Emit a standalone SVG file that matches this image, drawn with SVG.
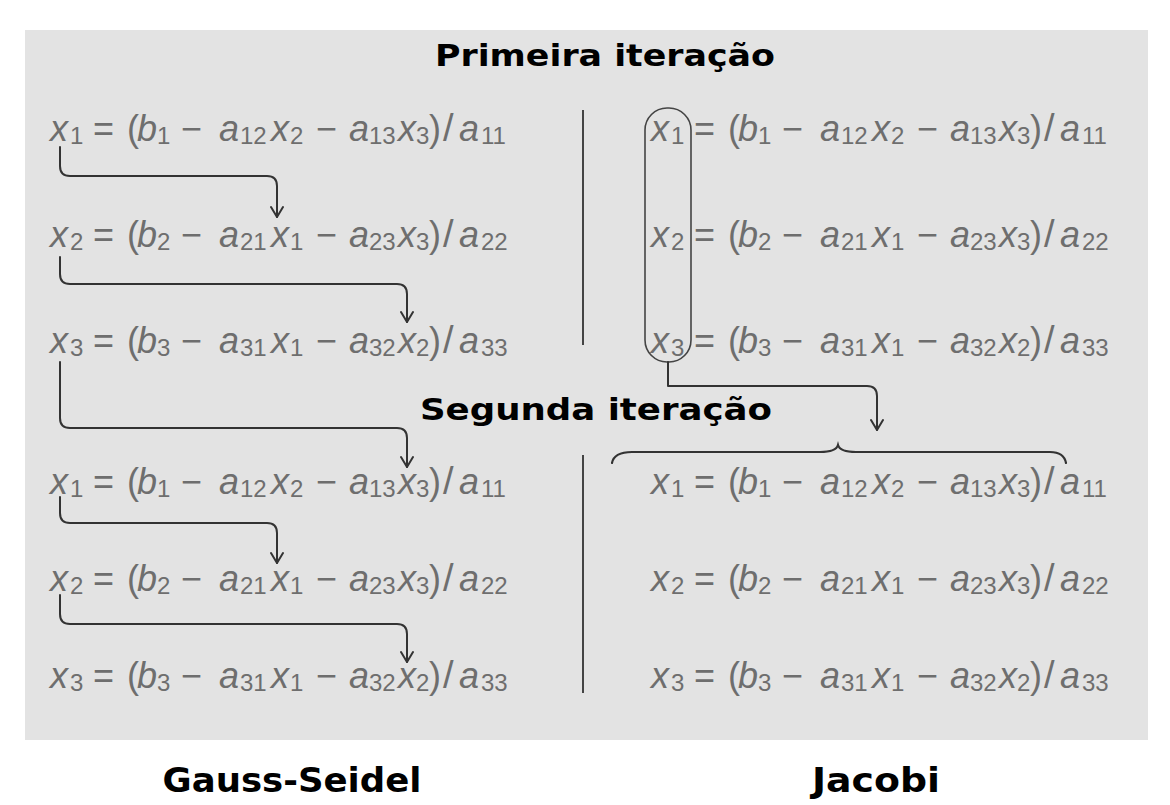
<svg xmlns="http://www.w3.org/2000/svg" width="1170" height="805" viewBox="0 0 1170 805">
<defs>
<style>
.eq{font-family:"Liberation Sans",Arial,sans-serif;font-weight:normal;font-size:36px;fill:#6e6e6e}
.v{font-style:italic}
.s{font-size:24px}
.o{font-size:36px}
.sl{font-size:38px}
.title{font-family:"DejaVu Sans","Liberation Sans",sans-serif;font-weight:bold;fill:#000;text-anchor:middle}
.conn{fill:none;stroke:#333;stroke-width:2;stroke-linecap:round;stroke-linejoin:round}
.sep{stroke:#444;stroke-width:2}
</style>
<marker id="ah" viewBox="0 0 14 14" refX="12" refY="7" markerWidth="14" markerHeight="14" markerUnits="userSpaceOnUse" orient="auto">
<path d="M2,1 L12,7 L2,13" fill="none" stroke="#333" stroke-width="2" stroke-linecap="round" stroke-linejoin="round"/>
</marker>
</defs>
<rect x="25" y="30" width="1123" height="710" fill="#e3e3e3"/>

<g id="title-primeira"><text class="title" x="605" y="66" font-size="31" textLength="340" lengthAdjust="spacingAndGlyphs">Primeira iteração</text></g>
<g id="title-segunda"><text class="title" x="596" y="420" font-size="31" textLength="352" lengthAdjust="spacingAndGlyphs">Segunda iteração</text></g>
<g id="label-gauss"><text class="title" x="292" y="792" font-size="34" textLength="259" lengthAdjust="spacingAndGlyphs">Gauss-Seidel</text></g>
<g id="label-jacobi"><text class="title" x="876" y="792" font-size="34" textLength="128" lengthAdjust="spacingAndGlyphs">Jacobi</text></g>

<g id="separators">
<line class="sep" x1="583" y1="110" x2="583" y2="345"/>
<line class="sep" x1="583" y1="455" x2="583" y2="693"/>
</g>

<!-- Gauss-Seidel equations -->
<g id="gs-it1-x1" transform="translate(0,141)"><text class="eq"><tspan class="v" x="50" y="0">x</tspan><tspan class="s" x="70" y="3">1</tspan><tspan class="o" x="93" y="0">=</tspan><tspan x="127" y="0">(</tspan><tspan class="v" x="137" y="0">b</tspan><tspan class="s" x="157" y="3">1</tspan><tspan class="o" x="181" y="0">−</tspan><tspan class="v" x="219" y="0">a</tspan><tspan class="s" x="240" y="3">12</tspan><tspan class="v" x="271" y="0">x</tspan><tspan class="s" x="290" y="3">2</tspan><tspan class="o" x="316" y="0">−</tspan><tspan class="v" x="349" y="0">a</tspan><tspan class="s" x="369" y="3">13</tspan><tspan class="v" x="398" y="0">x</tspan><tspan class="s" x="416" y="3">3</tspan><tspan x="429" y="0">)</tspan><tspan class="sl" x="443" y="0">/</tspan><tspan class="v" x="459" y="0">a</tspan><tspan class="s" x="481" y="3">11</tspan></text></g>
<g id="gs-it1-x2" transform="translate(0,247)"><text class="eq"><tspan class="v" x="50" y="0">x</tspan><tspan class="s" x="70" y="3">2</tspan><tspan class="o" x="93" y="0">=</tspan><tspan x="127" y="0">(</tspan><tspan class="v" x="137" y="0">b</tspan><tspan class="s" x="157" y="3">2</tspan><tspan class="o" x="181" y="0">−</tspan><tspan class="v" x="219" y="0">a</tspan><tspan class="s" x="240" y="3">21</tspan><tspan class="v" x="271" y="0">x</tspan><tspan class="s" x="290" y="3">1</tspan><tspan class="o" x="316" y="0">−</tspan><tspan class="v" x="349" y="0">a</tspan><tspan class="s" x="369" y="3">23</tspan><tspan class="v" x="398" y="0">x</tspan><tspan class="s" x="416" y="3">3</tspan><tspan x="429" y="0">)</tspan><tspan class="sl" x="443" y="0">/</tspan><tspan class="v" x="459" y="0">a</tspan><tspan class="s" x="481" y="3">22</tspan></text></g>
<g id="gs-it1-x3" transform="translate(0,353)"><text class="eq"><tspan class="v" x="50" y="0">x</tspan><tspan class="s" x="70" y="3">3</tspan><tspan class="o" x="93" y="0">=</tspan><tspan x="127" y="0">(</tspan><tspan class="v" x="137" y="0">b</tspan><tspan class="s" x="157" y="3">3</tspan><tspan class="o" x="181" y="0">−</tspan><tspan class="v" x="219" y="0">a</tspan><tspan class="s" x="240" y="3">31</tspan><tspan class="v" x="271" y="0">x</tspan><tspan class="s" x="290" y="3">1</tspan><tspan class="o" x="316" y="0">−</tspan><tspan class="v" x="349" y="0">a</tspan><tspan class="s" x="369" y="3">32</tspan><tspan class="v" x="398" y="0">x</tspan><tspan class="s" x="416" y="3">2</tspan><tspan x="429" y="0">)</tspan><tspan class="sl" x="443" y="0">/</tspan><tspan class="v" x="459" y="0">a</tspan><tspan class="s" x="481" y="3">33</tspan></text></g>
<g id="gs-it2-x1" transform="translate(0,494)"><text class="eq"><tspan class="v" x="50" y="0">x</tspan><tspan class="s" x="70" y="3">1</tspan><tspan class="o" x="93" y="0">=</tspan><tspan x="127" y="0">(</tspan><tspan class="v" x="137" y="0">b</tspan><tspan class="s" x="157" y="3">1</tspan><tspan class="o" x="181" y="0">−</tspan><tspan class="v" x="219" y="0">a</tspan><tspan class="s" x="240" y="3">12</tspan><tspan class="v" x="271" y="0">x</tspan><tspan class="s" x="290" y="3">2</tspan><tspan class="o" x="316" y="0">−</tspan><tspan class="v" x="349" y="0">a</tspan><tspan class="s" x="369" y="3">13</tspan><tspan class="v" x="398" y="0">x</tspan><tspan class="s" x="416" y="3">3</tspan><tspan x="429" y="0">)</tspan><tspan class="sl" x="443" y="0">/</tspan><tspan class="v" x="459" y="0">a</tspan><tspan class="s" x="481" y="3">11</tspan></text></g>
<g id="gs-it2-x2" transform="translate(0,591)"><text class="eq"><tspan class="v" x="50" y="0">x</tspan><tspan class="s" x="70" y="3">2</tspan><tspan class="o" x="93" y="0">=</tspan><tspan x="127" y="0">(</tspan><tspan class="v" x="137" y="0">b</tspan><tspan class="s" x="157" y="3">2</tspan><tspan class="o" x="181" y="0">−</tspan><tspan class="v" x="219" y="0">a</tspan><tspan class="s" x="240" y="3">21</tspan><tspan class="v" x="271" y="0">x</tspan><tspan class="s" x="290" y="3">1</tspan><tspan class="o" x="316" y="0">−</tspan><tspan class="v" x="349" y="0">a</tspan><tspan class="s" x="369" y="3">23</tspan><tspan class="v" x="398" y="0">x</tspan><tspan class="s" x="416" y="3">3</tspan><tspan x="429" y="0">)</tspan><tspan class="sl" x="443" y="0">/</tspan><tspan class="v" x="459" y="0">a</tspan><tspan class="s" x="481" y="3">22</tspan></text></g>
<g id="gs-it2-x3" transform="translate(0,688)"><text class="eq"><tspan class="v" x="50" y="0">x</tspan><tspan class="s" x="70" y="3">3</tspan><tspan class="o" x="93" y="0">=</tspan><tspan x="127" y="0">(</tspan><tspan class="v" x="137" y="0">b</tspan><tspan class="s" x="157" y="3">3</tspan><tspan class="o" x="181" y="0">−</tspan><tspan class="v" x="219" y="0">a</tspan><tspan class="s" x="240" y="3">31</tspan><tspan class="v" x="271" y="0">x</tspan><tspan class="s" x="290" y="3">1</tspan><tspan class="o" x="316" y="0">−</tspan><tspan class="v" x="349" y="0">a</tspan><tspan class="s" x="369" y="3">32</tspan><tspan class="v" x="398" y="0">x</tspan><tspan class="s" x="416" y="3">2</tspan><tspan x="429" y="0">)</tspan><tspan class="sl" x="443" y="0">/</tspan><tspan class="v" x="459" y="0">a</tspan><tspan class="s" x="481" y="3">33</tspan></text></g>

<!-- Jacobi equations -->
<g id="j-it1-x1" transform="translate(601,141)"><text class="eq"><tspan class="v" x="50" y="0">x</tspan><tspan class="s" x="70" y="3">1</tspan><tspan class="o" x="93" y="0">=</tspan><tspan x="127" y="0">(</tspan><tspan class="v" x="137" y="0">b</tspan><tspan class="s" x="157" y="3">1</tspan><tspan class="o" x="181" y="0">−</tspan><tspan class="v" x="219" y="0">a</tspan><tspan class="s" x="240" y="3">12</tspan><tspan class="v" x="271" y="0">x</tspan><tspan class="s" x="290" y="3">2</tspan><tspan class="o" x="316" y="0">−</tspan><tspan class="v" x="349" y="0">a</tspan><tspan class="s" x="369" y="3">13</tspan><tspan class="v" x="398" y="0">x</tspan><tspan class="s" x="416" y="3">3</tspan><tspan x="429" y="0">)</tspan><tspan class="sl" x="443" y="0">/</tspan><tspan class="v" x="459" y="0">a</tspan><tspan class="s" x="481" y="3">11</tspan></text></g>
<g id="j-it1-x2" transform="translate(601,247)"><text class="eq"><tspan class="v" x="50" y="0">x</tspan><tspan class="s" x="70" y="3">2</tspan><tspan class="o" x="93" y="0">=</tspan><tspan x="127" y="0">(</tspan><tspan class="v" x="137" y="0">b</tspan><tspan class="s" x="157" y="3">2</tspan><tspan class="o" x="181" y="0">−</tspan><tspan class="v" x="219" y="0">a</tspan><tspan class="s" x="240" y="3">21</tspan><tspan class="v" x="271" y="0">x</tspan><tspan class="s" x="290" y="3">1</tspan><tspan class="o" x="316" y="0">−</tspan><tspan class="v" x="349" y="0">a</tspan><tspan class="s" x="369" y="3">23</tspan><tspan class="v" x="398" y="0">x</tspan><tspan class="s" x="416" y="3">3</tspan><tspan x="429" y="0">)</tspan><tspan class="sl" x="443" y="0">/</tspan><tspan class="v" x="459" y="0">a</tspan><tspan class="s" x="481" y="3">22</tspan></text></g>
<g id="j-it1-x3" transform="translate(601,353)"><text class="eq"><tspan class="v" x="50" y="0">x</tspan><tspan class="s" x="70" y="3">3</tspan><tspan class="o" x="93" y="0">=</tspan><tspan x="127" y="0">(</tspan><tspan class="v" x="137" y="0">b</tspan><tspan class="s" x="157" y="3">3</tspan><tspan class="o" x="181" y="0">−</tspan><tspan class="v" x="219" y="0">a</tspan><tspan class="s" x="240" y="3">31</tspan><tspan class="v" x="271" y="0">x</tspan><tspan class="s" x="290" y="3">1</tspan><tspan class="o" x="316" y="0">−</tspan><tspan class="v" x="349" y="0">a</tspan><tspan class="s" x="369" y="3">32</tspan><tspan class="v" x="398" y="0">x</tspan><tspan class="s" x="416" y="3">2</tspan><tspan x="429" y="0">)</tspan><tspan class="sl" x="443" y="0">/</tspan><tspan class="v" x="459" y="0">a</tspan><tspan class="s" x="481" y="3">33</tspan></text></g>
<g id="j-it2-x1" transform="translate(601,494)"><text class="eq"><tspan class="v" x="50" y="0">x</tspan><tspan class="s" x="70" y="3">1</tspan><tspan class="o" x="93" y="0">=</tspan><tspan x="127" y="0">(</tspan><tspan class="v" x="137" y="0">b</tspan><tspan class="s" x="157" y="3">1</tspan><tspan class="o" x="181" y="0">−</tspan><tspan class="v" x="219" y="0">a</tspan><tspan class="s" x="240" y="3">12</tspan><tspan class="v" x="271" y="0">x</tspan><tspan class="s" x="290" y="3">2</tspan><tspan class="o" x="316" y="0">−</tspan><tspan class="v" x="349" y="0">a</tspan><tspan class="s" x="369" y="3">13</tspan><tspan class="v" x="398" y="0">x</tspan><tspan class="s" x="416" y="3">3</tspan><tspan x="429" y="0">)</tspan><tspan class="sl" x="443" y="0">/</tspan><tspan class="v" x="459" y="0">a</tspan><tspan class="s" x="481" y="3">11</tspan></text></g>
<g id="j-it2-x2" transform="translate(601,591)"><text class="eq"><tspan class="v" x="50" y="0">x</tspan><tspan class="s" x="70" y="3">2</tspan><tspan class="o" x="93" y="0">=</tspan><tspan x="127" y="0">(</tspan><tspan class="v" x="137" y="0">b</tspan><tspan class="s" x="157" y="3">2</tspan><tspan class="o" x="181" y="0">−</tspan><tspan class="v" x="219" y="0">a</tspan><tspan class="s" x="240" y="3">21</tspan><tspan class="v" x="271" y="0">x</tspan><tspan class="s" x="290" y="3">1</tspan><tspan class="o" x="316" y="0">−</tspan><tspan class="v" x="349" y="0">a</tspan><tspan class="s" x="369" y="3">23</tspan><tspan class="v" x="398" y="0">x</tspan><tspan class="s" x="416" y="3">3</tspan><tspan x="429" y="0">)</tspan><tspan class="sl" x="443" y="0">/</tspan><tspan class="v" x="459" y="0">a</tspan><tspan class="s" x="481" y="3">22</tspan></text></g>
<g id="j-it2-x3" transform="translate(601,688)"><text class="eq"><tspan class="v" x="50" y="0">x</tspan><tspan class="s" x="70" y="3">3</tspan><tspan class="o" x="93" y="0">=</tspan><tspan x="127" y="0">(</tspan><tspan class="v" x="137" y="0">b</tspan><tspan class="s" x="157" y="3">3</tspan><tspan class="o" x="181" y="0">−</tspan><tspan class="v" x="219" y="0">a</tspan><tspan class="s" x="240" y="3">31</tspan><tspan class="v" x="271" y="0">x</tspan><tspan class="s" x="290" y="3">1</tspan><tspan class="o" x="316" y="0">−</tspan><tspan class="v" x="349" y="0">a</tspan><tspan class="s" x="369" y="3">32</tspan><tspan class="v" x="398" y="0">x</tspan><tspan class="s" x="416" y="3">2</tspan><tspan x="429" y="0">)</tspan><tspan class="sl" x="443" y="0">/</tspan><tspan class="v" x="459" y="0">a</tspan><tspan class="s" x="481" y="3">33</tspan></text></g>

<g id="jacobi-group-oval"><rect x="645" y="108" width="46" height="254" rx="22" ry="22" fill="none" stroke="#444" stroke-width="1.6"/></g>
<g id="jacobi-brace"><path d="M612,463 Q614,452 632,452 L820,452 Q836,452 838,445 Q840,452 856,452 L1050,452 Q1064,452 1066,463" fill="none" stroke="#333" stroke-width="2.2" stroke-linecap="round"/></g>

<g id="connectors">
<path class="conn" marker-end="url(#ah)" d="M60,147 V166 Q60,176 70,176 H267 Q277,176 277,186 V217"/>
<path class="conn" marker-end="url(#ah)" d="M60,257 V274 Q60,284 70,284 H397 Q407,284 407,294 V322"/>
<path class="conn" marker-end="url(#ah)" d="M60,362 V418 Q60,428 70,428 H397 Q407,428 407,438 V467"/>
<path class="conn" marker-end="url(#ah)" d="M60,497 V513 Q60,523 70,523 H267 Q277,523 277,533 V563"/>
<path class="conn" marker-end="url(#ah)" d="M60,595 V614 Q60,624 70,624 H397 Q407,624 407,634 V662"/>
<path class="conn" marker-end="url(#ah)" d="M668,362 V386 H867 Q877,386 877,396 V430"/>
</g>
</svg>
